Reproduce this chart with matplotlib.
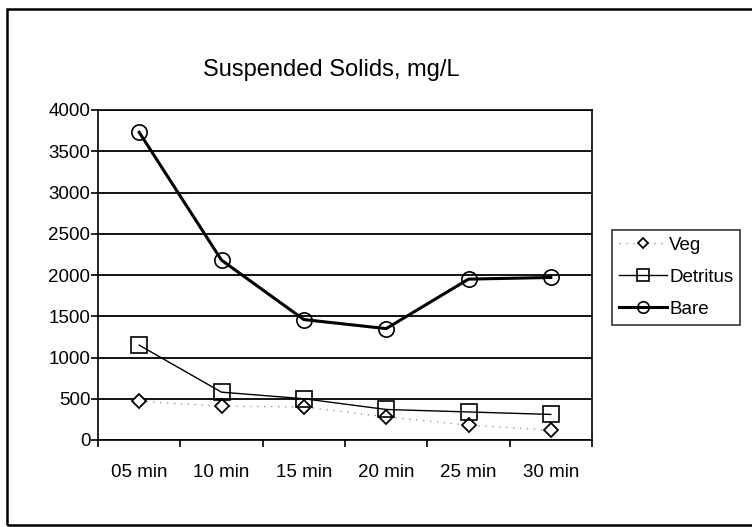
import matplotlib.pyplot as plt
from matplotlib.patches import Rectangle

plt.rcParams['font.family'] = ['Liberation Sans', 'DejaVu Sans']

times = ['05 min', '10 min', '15 min', '20 min', '25 min', '30 min']
veg = [470, 410, 400, 280, 180, 120]
detritus = [1150, 580, 500, 370, 340, 310]
bare = [3730, 2180, 1460, 1350, 1950, 1970]

fig = plt.figure(figsize=(7.52, 5.27), dpi=100)
ax = fig.add_axes([98 / 752, 1 - 440 / 527, 494 / 752, 330 / 527])

x = range(len(times))
ax.plot(x, veg, color='#999999', lw=1, ls=(0, (1, 4)), marker='D', ms=7,
        mfc='white', mec='black', mew=1.3, label='Veg')
ax.plot(x, detritus, color='black', lw=1, marker='s', ms=11,
        mfc='none', mec='black', mew=1.2, label='Detritus')
ax.plot(x, bare, color='black', lw=2.2, marker='o', ms=11,
        mfc='none', mec='black', mew=1.2, label='Bare')

ax.set_xlim(-0.5, 5.5)
ax.set_ylim(0, 4000)
ax.set_yticks(range(0, 4001, 500))
ax.set_xticks(list(x))
ax.set_xticklabels(times)
ax.set_xticks([i + 0.5 for i in range(-1, 6)], minor=True)
ax.tick_params(axis='x', which='major', length=0, pad=17, labelsize=13.5)
ax.tick_params(axis='x', which='minor', length=5, width=1.2)
ax.tick_params(axis='y', length=5, width=1.2, labelsize=13.5, pad=0.5)
ax.yaxis.grid(True, color='black', lw=1.3)
ax.set_axisbelow(True)
for s in ax.spines.values():
    s.set_linewidth(1.2)

fig.text(331 / 752, 1 - 70 / 527, 'Suspended Solids, mg/L', fontsize=17,
         ha='center', va='center')

leg = ax.legend(loc='upper left', bbox_to_anchor=(612 / 752, 1 - 230 / 527),
                bbox_transform=fig.transFigure, frameon=True,
                fancybox=False, edgecolor='black', fontsize=13.5,
                handlelength=2.6, handletextpad=0.1, borderpad=0.35,
                borderaxespad=0, labelspacing=0.8, markerscale=0.75)
leg.get_frame().set_linewidth(1.2)

# outer chart border
fig.patches.append(Rectangle((7 / 752, 2 / 527), 760 / 752, 516 / 527,
                             transform=fig.transFigure, fill=False,
                             edgecolor='black', lw=1.8))

fig.savefig('out.png', dpi=100)
